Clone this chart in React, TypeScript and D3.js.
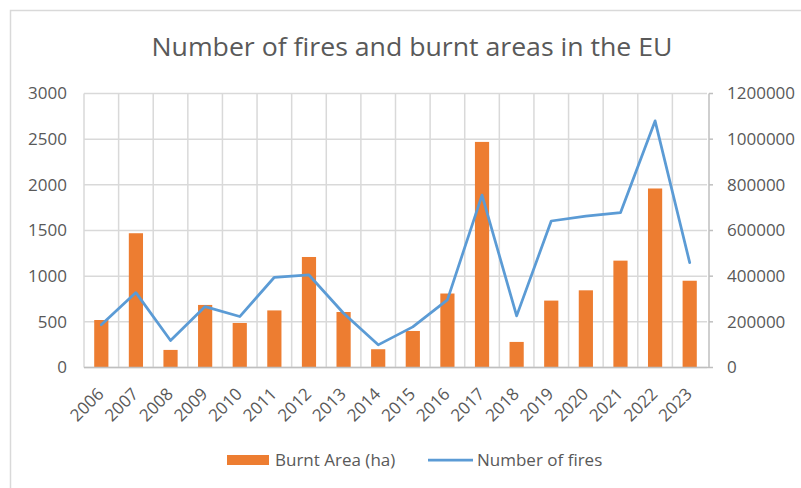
import React from "react";
import * as d3 from "d3";

const years = ["2006","2007","2008","2009","2010","2011","2012","2013","2014","2015","2016","2017","2018","2019","2020","2021","2022","2023"];
const burntArea = [208000, 588000, 77000, 274000, 195000, 250000, 484000, 243000, 80000, 160000, 324000, 988000, 112000, 293000, 338000, 468000, 784000, 380000];
const numberOfFires = [467, 820, 295, 667, 558, 988, 1013, 594, 248, 445, 740, 1888, 565, 1604, 1658, 1695, 2700, 1148];
const leftTicks = [0, 500, 1000, 1500, 2000, 2500, 3000];
const rightTicks = [0, 200000, 400000, 600000, 800000, 1000000, 1200000];

const W = 801, H = 488;
const plot = { left: 84, right: 707, top: 93.5, bottom: 367.5 };
const FONT = "'Open Sans', sans-serif";
const TXT = "#595959";
const GRID = "#D9D9D9";
const ORANGE = "#ED7D31";
const BLUE = "#5B9BD5";

export default function App() {
  const x = d3.scaleBand<string>().domain(years).range([plot.left, plot.right]).paddingInner(0).paddingOuter(0);
  const yL = d3.scaleLinear().domain([0, 3000]).range([plot.bottom, plot.top]);
  const yR = d3.scaleLinear().domain([0, 1200000]).range([plot.bottom, plot.top]);
  const bw = x.bandwidth() * 0.41;
  const line = d3.line<number>()
    .x((_, i) => (x(years[i]) as number) + x.bandwidth() / 2)
    .y((d) => yL(d));

  return (
    <svg width={W} height={H} style={{ position: "absolute", left: 0, top: 0, display: "block", background: "#fff" }}>
      <rect x={10.5} y={10.5} width={W} height={H} fill="#fff" stroke="#D9D9D9" strokeWidth={1.5} />
      <text x={412} y={56} textAnchor="middle" fontFamily={FONT} fontSize={25} fill={TXT} textLength={521} lengthAdjust="spacingAndGlyphs">
        Number of fires and burnt areas in the EU
      </text>
      {leftTicks.map((t) => (
        <line key={"h" + t} x1={plot.left} x2={plot.right} y1={yL(t)} y2={yL(t)} stroke={GRID} strokeWidth={1.5} />
      ))}
      {years.map((yr) => (
        <line key={"v" + yr} x1={x(yr)} x2={x(yr)} y1={plot.top} y2={plot.bottom} stroke={GRID} strokeWidth={1.5} />
      ))}
      <line x1={plot.right + 2} x2={plot.right + 2} y1={plot.top} y2={plot.bottom} stroke="#BFBFBF" strokeWidth={1.5} />
      {rightTicks.map((t) => (
        <line key={"rt" + t} x1={plot.right + 2} x2={plot.right + 6} y1={yR(t)} y2={yR(t)} stroke="#BFBFBF" strokeWidth={1.5} />
      ))}
      {burntArea.map((v, i) => {
        const cx = (x(years[i]) as number) + x.bandwidth() / 2;
        return <rect key={"b" + i} x={cx - bw / 2} y={yR(v)} width={bw} height={plot.bottom - yR(v)} fill={ORANGE} />;
      })}
      <line x1={plot.left} x2={plot.right + 2} y1={plot.bottom} y2={plot.bottom} stroke="#BFBFBF" strokeWidth={1.5} />
      <path d={line(numberOfFires) || ""} fill="none" stroke={BLUE} strokeWidth={2.75} strokeLinejoin="round" strokeLinecap="round" />
      {leftTicks.map((t) => (
        <text key={"lt" + t} x={67} y={yL(t)} dy="0.35em" textAnchor="end" fontFamily={FONT} fontSize={17} fill={TXT}>{t}</text>
      ))}
      {rightTicks.map((t) => (
        <text key={"rl" + t} x={727} y={yR(t)} dy="0.35em" textAnchor="start" fontFamily={FONT} fontSize={17} fill={TXT}>{t}</text>
      ))}
      {years.map((yr) => {
        const cx = (x(yr) as number) + x.bandwidth() / 2;
        const ax = cx + 3.5, ay = 395;
        return (
          <text key={"xl" + yr} x={ax} y={ay} textAnchor="end" transform={`rotate(-45 ${ax} ${ay})`} fontFamily={FONT} fontSize={17} fill={TXT}>{yr}</text>
        );
      })}
      <rect x={227} y={455} width={42} height={10} fill={ORANGE} />
      <text x={275} y={460} dy="0.35em" fontFamily={FONT} fontSize={17} fill={TXT}>Burnt Area (ha)</text>
      <line x1={428} x2={473} y1={460} y2={460} stroke={BLUE} strokeWidth={2.75} />
      <text x={477} y={460} dy="0.35em" fontFamily={FONT} fontSize={17} fill={TXT}>Number of fires</text>
    </svg>
  );
}
